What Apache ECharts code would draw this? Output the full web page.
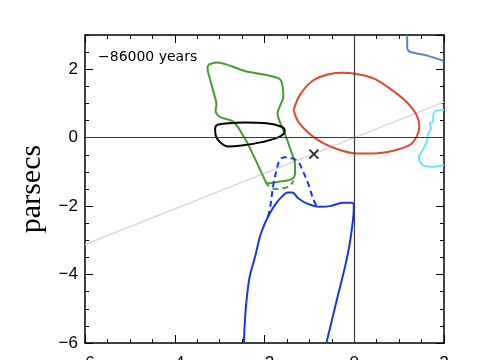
<!DOCTYPE html>
<html>
<head>
<meta charset="utf-8">
<script src="https://cdn.jsdelivr.net/npm/echarts@6/dist/echarts.min.js"></script>
<style>
  html, body { margin: 0; padding: 0; background: #fff; }
  #chart { width: 485px; height: 360px; }
</style>
</head>
<body>
<div id="chart"></div>
<script>
// axis ranges (parsecs)
var xRange = [-6, 2];
var yRange = [-6, 3];
var epochLabel = '\u221286000 years';

// traced outlines, [x, y] in parsecs
var redLoop = [
  [-1.35, 0.81], [-1.21, 1.25], [-0.92, 1.67], [-0.54, 1.86], [-0.25, 1.9],
  [0.05, 1.86], [0.42, 1.74], [0.79, 1.44], [1.16, 1.05], [1.39, 0.66],
  [1.45, 0.32], [1.39, 0.03], [1.24, -0.21], [0.87, -0.38], [0.42, -0.46],
  [0.05, -0.46], [-0.32, -0.36], [-0.69, -0.16], [-0.99, 0.11], [-1.25, 0.47],
  [-1.35, 0.81]
];
var greenLoop = [
  [-3.25, 2.13], [-3.07, 2.2], [-2.44, 1.95], [-1.69, 1.74], [-1.61, 1.59],
  [-1.58, 1.2], [-1.63, 1.0], [-1.71, 0.71], [-1.66, 0.47], [-1.55, 0.13],
  [-1.43, -0.31], [-1.32, -0.8], [-1.32, -1.04], [-1.4, -1.21], [-1.69, -1.29],
  [-1.95, -1.33], [-1.99, -1.24], [-2.25, -0.51], [-2.44, -0.02], [-2.7, 0.47],
  [-3.0, 0.61], [-3.09, 0.81], [-3.07, 0.96], [-3.14, 1.35], [-3.22, 1.74],
  [-3.27, 2.03], [-3.25, 2.13]
];
var greenDashed = [
  [-1.98, -1.28], [-1.9, -1.42], [-1.75, -1.5], [-1.55, -1.47], [-1.42, -1.38], [-1.35, -1.25]
];
var blackLoop = [
  [-3.07, 0.37], [-2.81, 0.42], [-2.44, 0.44], [-1.95, 0.42], [-1.62, 0.32],
  [-1.55, 0.2], [-1.66, 0.03], [-2.06, -0.13], [-2.51, -0.23], [-2.81, -0.26],
  [-3.0, -0.12], [-3.09, 0.08], [-3.1, 0.27], [-3.07, 0.37]
];
var blueSolid = [
  [-2.46, -6.05], [-2.44, -5.43], [-2.4, -4.75], [-2.33, -4.06], [-2.21, -3.48],
  [-2.1, -2.89], [-1.99, -2.5], [-1.88, -2.21], [-1.77, -1.97], [-1.62, -1.73],
  [-1.48, -1.6], [-1.38, -1.6], [-1.25, -1.77], [-1.06, -1.92], [-0.77, -2.02], [-0.54, -2.0],
  [-0.25, -1.9], [-0.06, -1.9], [-0.01, -1.97], [-0.02, -2.31], [-0.14, -3.38],
  [-0.39, -4.75], [-0.63, -6.05]
];
var blueDashed = [
  [-1.92, -2.31], [-1.86, -1.92], [-1.81, -1.43], [-1.73, -0.94], [-1.66, -0.65],
  [-1.55, -0.57], [-1.4, -0.6], [-1.25, -0.7], [-1.14, -0.99], [-1.03, -1.33],
  [-0.92, -1.77], [-0.83, -2.02]
];
var cyanCurve = [
  [2.0, 0.81], [1.83, 0.79], [1.76, 0.66], [1.76, 0.47], [1.68, 0.42],
  [1.71, 0.27], [1.65, 0.13], [1.61, -0.12], [1.53, -0.36], [1.44, -0.56],
  [1.46, -0.7], [1.57, -0.83], [1.79, -0.85], [2.0, -0.8]
];
var cornflowerCurve = [
  [1.18, 3.0], [1.18, 2.61], [1.24, 2.51], [1.65, 2.39], [2.0, 2.24]
];
var grayLine = [[-6, -3.12], [2, 1.04]];
var crossMark = [[-0.9, -0.48]];

var chart = echarts.init(document.getElementById('chart'), null, {renderer: 'canvas'});

var tickFont = {fontFamily: 'Liberation Sans, Arial, sans-serif', fontSize: 17, color: '#000'};
var frameLine = {show: true, onZero: false, lineStyle: {color: '#000', width: 1.5}};
var noLine = {show: false, onZero: false};

function fmt(v) {
  return String(v).replace('-', '\u2212');
}

function curve(data, color, extra) {
  return Object.assign({
    type: 'line',
    data: data,
    showSymbol: false,
    symbol: 'none',
    smooth: 0.35,
    lineStyle: {color: color, width: 2},
    silent: true,
    z: 3
  }, extra || {});
}

var option = {
  animation: false,
  backgroundColor: '#fff',
  grid: {left: 85, right: 41, top: 35, bottom: 17, containLabel: false, outerBoundsMode: 'none'},
  xAxis: [
    {
      type: 'value', position: 'bottom', min: xRange[0], max: xRange[1], interval: 2,
      axisLine: frameLine,
      axisTick: {inside: true, length: 8, lineStyle: {color: '#000', width: 1}},
      minorTick: {show: true, splitNumber: 4, length: 4, lineStyle: {color: '#000', width: 1}},
      splitLine: {show: false},
      axisLabel: Object.assign({margin: 12, formatter: fmt}, tickFont)
    },
    {
      type: 'value', position: 'top', min: xRange[0], max: xRange[1], interval: 2,
      axisLine: frameLine,
      axisTick: {inside: true, length: 8, lineStyle: {color: '#000', width: 1}},
      minorTick: {show: true, splitNumber: 4, length: 4, lineStyle: {color: '#000', width: 1}},
      splitLine: {show: false},
      axisLabel: {show: false}
    }
  ],
  yAxis: [
    {
      type: 'value', position: 'left', min: yRange[0], max: yRange[1], interval: 2,
      axisLine: frameLine,
      axisTick: {inside: true, length: 8, lineStyle: {color: '#000', width: 1}},
      splitLine: {show: false},
      axisLabel: Object.assign({margin: 7, showMaxLabel: false, formatter: function (v) {
        return v === yRange[1] ? '' : fmt(v);
      }}, tickFont)
    },
    {
      type: 'value', position: 'left', min: yRange[0], max: yRange[1], interval: 0.5,
      axisLine: noLine,
      axisTick: {inside: true, length: 4, lineStyle: {color: '#000', width: 1}},
      splitLine: {show: false},
      axisLabel: {show: false}
    },
    {
      type: 'value', position: 'right', min: yRange[0], max: yRange[1], interval: 2,
      axisLine: frameLine,
      axisTick: {inside: true, length: 8, lineStyle: {color: '#000', width: 1}},
      splitLine: {show: false},
      axisLabel: {show: false}
    },
    {
      type: 'value', position: 'right', min: yRange[0], max: yRange[1], interval: 0.5,
      axisLine: noLine,
      axisTick: {inside: true, length: 4, lineStyle: {color: '#000', width: 1}},
      splitLine: {show: false},
      axisLabel: {show: false}
    }
  ],
  graphic: [
    {
      type: 'text', left: 98, top: 50,
      style: {text: epochLabel, fontFamily: 'DejaVu Sans, sans-serif', fontSize: 14, fill: '#000'}
    },
    {
      type: 'text', x: 32, y: 189, rotation: Math.PI / 2,
      style: {text: 'parsecs', fontFamily: 'Liberation Serif, Times New Roman, serif', fontSize: 30,
        fill: '#000', align: 'center', verticalAlign: 'middle'}
    }
  ],
  series: [
    {
      type: 'line', data: grayLine, symbol: 'none', silent: true, z: 1,
      lineStyle: {color: '#d9d9d9', width: 1.5},
      markLine: {
        silent: true, symbol: 'none', label: {show: false},
        lineStyle: {color: '#3a3a3a', width: 1.2, type: 'solid'},
        data: [{yAxis: 0}, {xAxis: 0}]
      }
    },
    curve(redLoop, '#e0472f'),
    curve(greenLoop, '#4b9a2e'),
    curve(greenDashed, '#4b9a2e', {lineStyle: {color: '#4b9a2e', width: 2, type: [6, 4]}}),
    curve(blackLoop, '#000000'),
    curve(blueSolid, '#1736e6'),
    curve(blueDashed, '#1736e6', {lineStyle: {color: '#1736e6', width: 2, type: [6, 4]}}),
    curve(cyanCurve, '#6fe6f2'),
    curve(cornflowerCurve, '#5b7fdc', {smooth: 0.2}),
    {
      type: 'scatter', data: crossMark, silent: true, z: 4,
      symbol: 'path://M0 0L10 10M10 0L0 10', symbolSize: 9,
      itemStyle: {color: 'none', borderColor: '#000', borderWidth: 2}
    }
  ]
};

chart.setOption(option);
</script>
</body>
</html>
